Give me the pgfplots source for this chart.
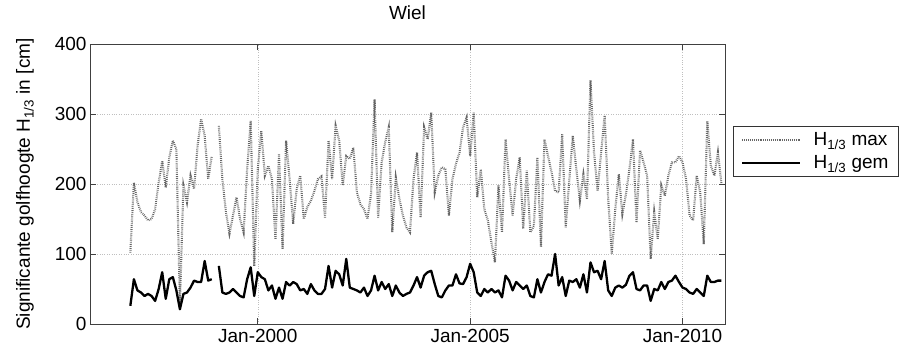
\documentclass[border=0pt]{standalone}
\usepackage{pgfplots}
\usepackage{pgfplotstable}
\pgfplotsset{compat=1.18}
\usepackage{fontspec}
\setmainfont{Liberation Sans}

\pgfplotstableread{
n hmax hgem
0 102 26
1 202 64
2 174 48
3 160 45
4 155 40
5 148 43
6 150 40
7 164 33
8 202 50
9 233 74
10 195 36
11 238 64
12 262 67
13 250 48
14 28 21
15 198 43
16 174 45
17 212 52
18 193 62
19 255 60
20 293 60
21 269 90
22 207 62
23 240 64
24 nan nan
25 283 83
26 207 45
27 160 43
28 129 45
29 155 50
30 181 45
31 150 40
32 131 38
33 221 64
34 290 81
35 83 40
36 221 74
37 276 67
38 212 64
39 226 48
40 207 55
41 121 36
42 243 52
43 107 36
44 262 60
45 207 55
46 143 60
47 193 57
48 212 48
49 150 50
50 167 43
51 176 57
52 190 48
53 207 43
54 211 43
55 152 50
56 262 83
57 207 52
58 283 76
59 262 71
60 198 55
61 240 93
62 236 52
63 252 50
64 188 48
65 171 45
66 164 52
67 150 40
68 186 48
69 321 69
70 152 48
71 231 60
72 260 50
73 281 57
74 131 40
75 209 55
76 179 45
77 155 40
78 138 43
79 131 45
80 207 55
81 245 67
82 152 52
83 281 69
84 264 74
85 302 76
86 188 57
87 212 40
88 224 38
89 221 48
90 155 55
91 207 55
92 229 71
93 245 58
94 281 57
95 295 67
96 240 86
97 302 74
98 181 45
99 221 40
100 164 50
101 148 45
102 117 50
103 88 45
104 198 48
105 131 38
106 264 69
107 207 62
108 155 48
109 207 60
110 238 55
111 136 50
112 219 55
113 131 40
114 140 38
115 238 64
116 110 45
117 264 60
118 240 71
119 217 69
120 190 100
121 188 55
122 271 67
123 138 40
124 205 62
125 269 60
126 221 64
127 176 52
128 214 71
129 179 45
130 348 88
131 245 74
132 190 76
133 245 64
134 298 90
135 179 48
136 100 40
137 164 52
138 214 55
139 157 52
140 185 56
141 221 69
142 264 74
143 145 50
144 248 48
145 231 55
146 212 55
147 93 33
148 160 50
149 121 48
150 198 60
151 183 50
152 212 60
153 231 62
154 231 69
155 240 60
156 231 52
157 207 50
158 155 45
159 148 43
160 212 50
161 188 45
162 114 40
163 290 69
164 226 60
165 212 60
166 245 62
167 200 62
}\wieldata

\begin{document}
\begin{tikzpicture}[font=\fontsize{19}{22}\selectfont]
\path[use as bounding box] (-90pt,-30pt) rectangle (820pt,324pt);
\begin{axis}[
  scale only axis,
  width=635pt, height=280pt,
  xmin=-11.4, xmax=168,
  ymin=0, ymax=400,
  xtick={36,96,156},
  xticklabels={Jan-2000,Jan-2005,Jan-2010},
  ytick={0,100,200,300,400},
  /pgf/number format/assume math mode=true,
  tick align=inside,
  major tick length=6pt,
  tick style={black!75, line width=0.6pt},
  axis line style={black!75, line width=0.6pt},
  grid=major,
  major grid style={dotted, black!25, line width=0.5pt},
  unbounded coords=jump,
  title={Wiel},
  title style={at={(axis description cs:0.5,1)}, anchor=base, yshift=19pt},
  ylabel={Significante golfhoogte H\textsubscript{1/3} in [cm]},
  ylabel style={at={(axis description cs:-0.1024,0.5)}, anchor=center},
  xticklabel style={yshift=-2pt},
  legend style={at={(rel axis cs:1.0126,0.707)}, anchor=north west,
    draw=black!80, line width=0.6pt, fill=white, inner xsep=8pt, inner ysep=4pt,
    row sep=5pt, font=\fontsize{19}{22}\selectfont,
    /tikz/every odd column/.style={column sep=10pt}},
  legend cell align=left,
  legend image code/.code={\draw[#1] plot coordinates {(0pt,0pt) (29pt,0pt) (58pt,0pt)};},
]
\addplot[black!60, dash pattern=on 0.8pt off 1.1pt, line width=2.1pt] table[x=n, y=hmax] {\wieldata};
\addlegendentry{H\textsubscript{1/3} max}
\addplot[black, line width=2.3pt, line join=round] table[x=n, y=hgem] {\wieldata};
\addlegendentry{H\textsubscript{1/3} gem}
\end{axis}
\end{tikzpicture}
\end{document}
